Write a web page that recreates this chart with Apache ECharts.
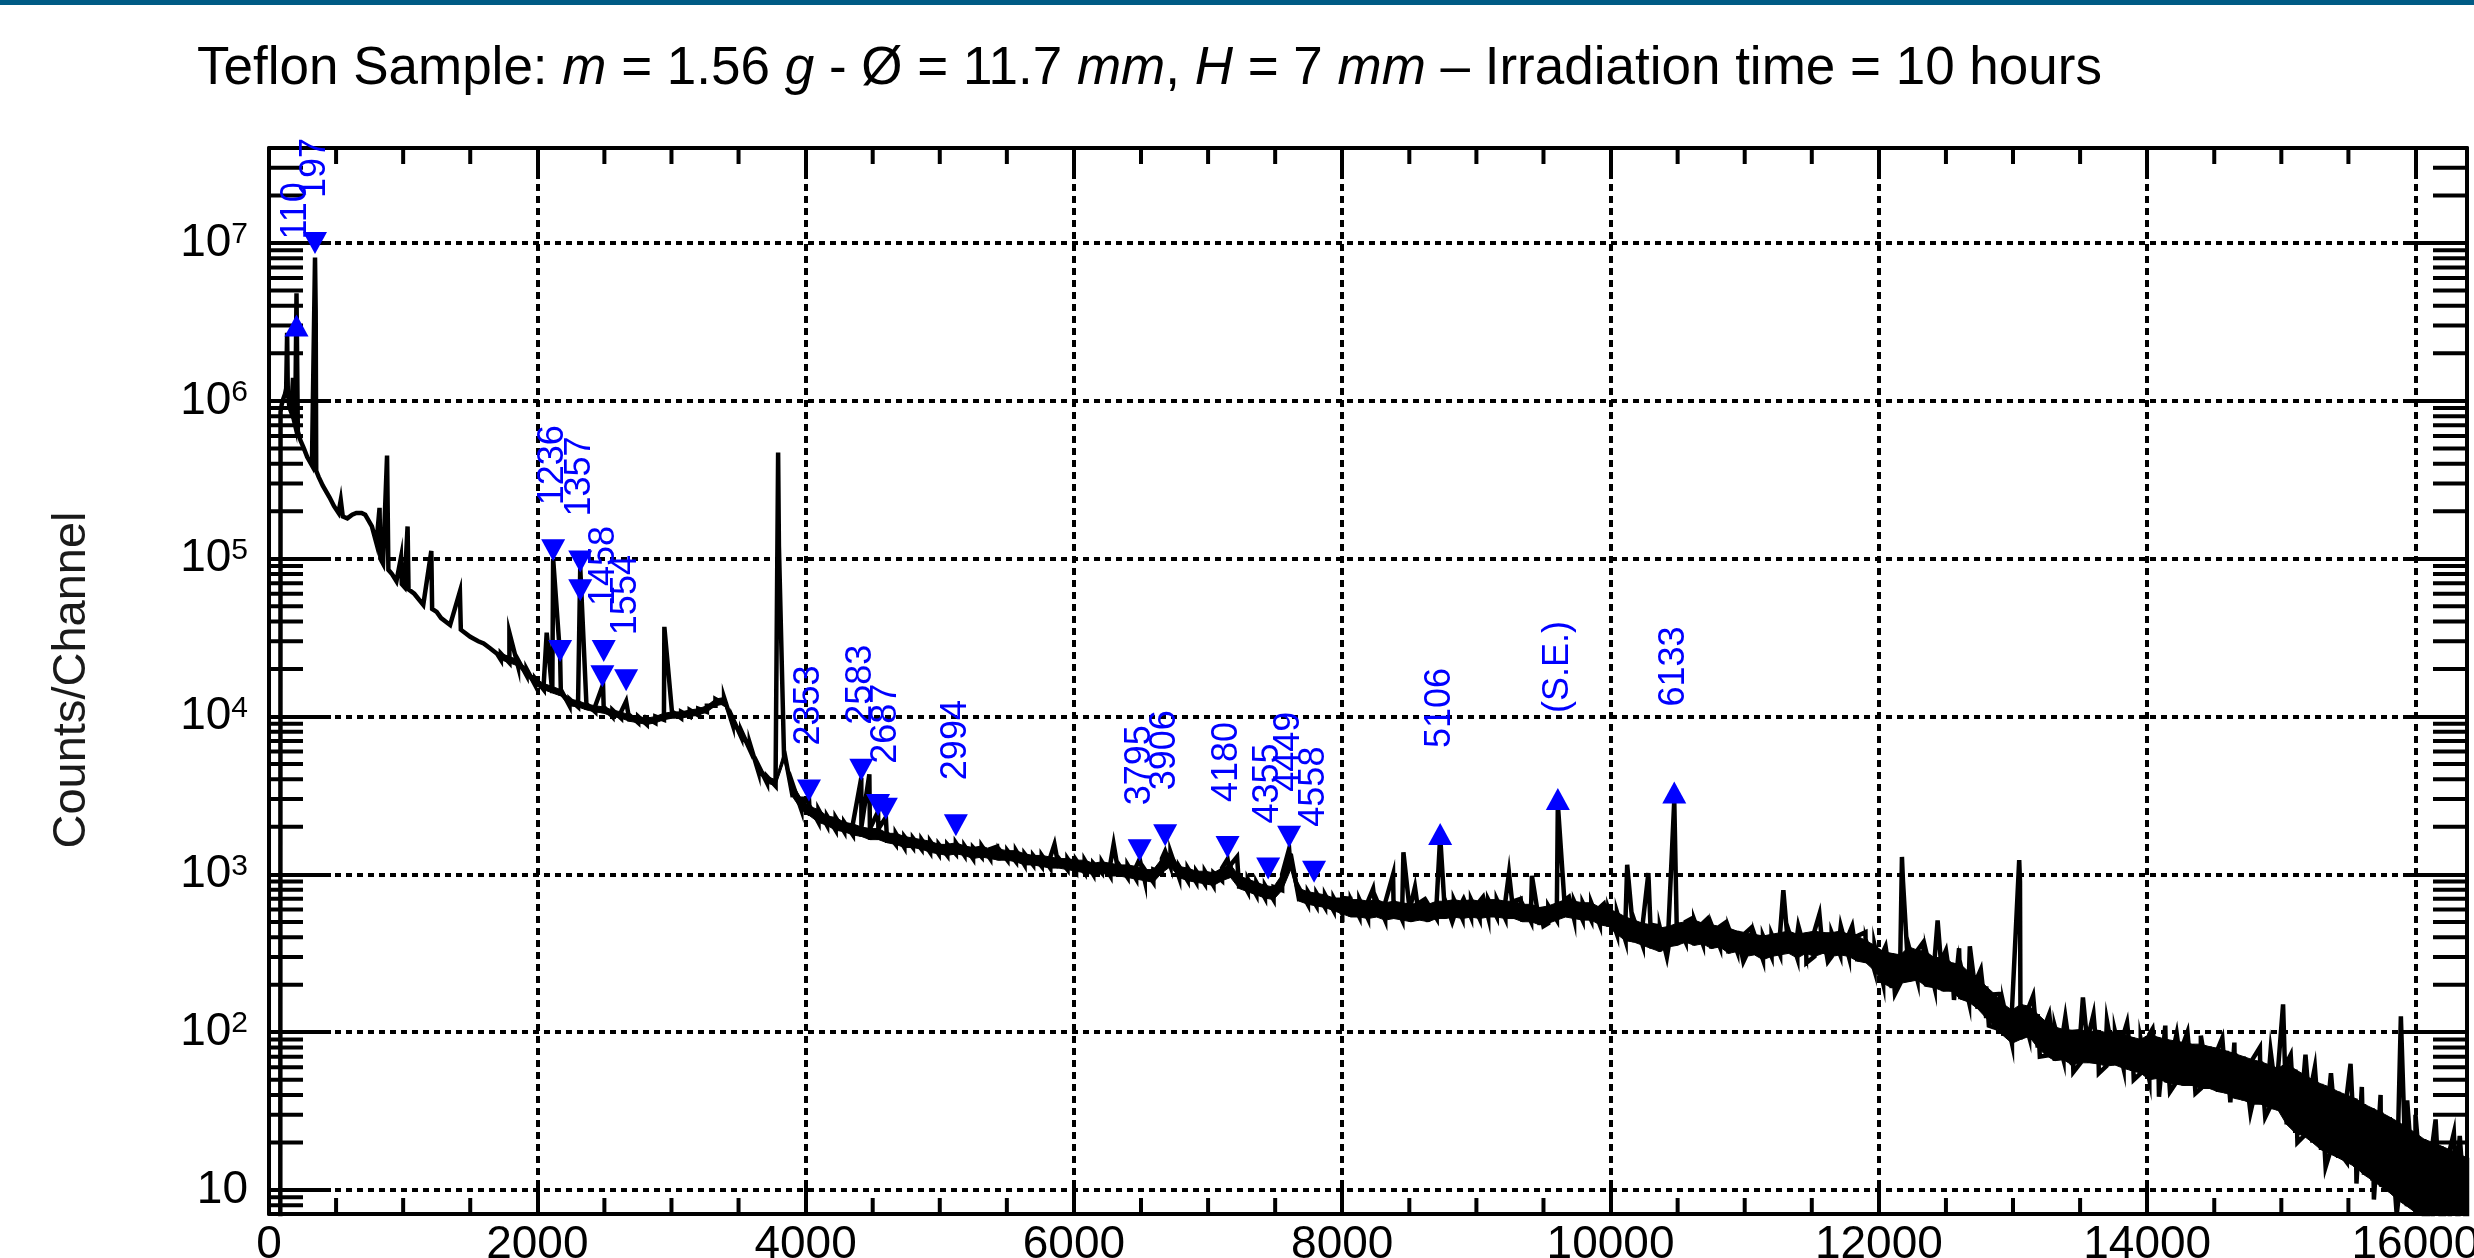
<!DOCTYPE html>
<html>
<head>
<meta charset="utf-8">
<title>Teflon Sample – gamma spectrum</title>
<script src="https://cdn.jsdelivr.net/npm/echarts@6/dist/echarts.min.js"></script>
<style>
  html, body { margin: 0; padding: 0; background: #ffffff; }
  #chart { width: 2474px; height: 1258px; }
</style>
</head>
<body>
<div id="chart"></div>
<script>
const FONT = '"Liberation Sans", Arial, Helvetica, sans-serif';

// Low-channel part of the spectrum: [channel, counts]
const headSpectrum = [
  [84, 1], [86, 850000], [95, 950000], [105, 1020000], [119, 1100000], [128, 1200000],
  [135, 2700000], [140, 1150000], [152, 910000], [165, 850000], [179, 1400000], [185, 760000],
  [195, 700000], [205, 4800000], [215, 640000], [235, 560000], [260, 500000], [285, 440000],
  [320, 390000], [343, 8100000], [348, 3700000], [352, 360000], [370, 330000], [401, 290000],
  [451, 245000], [485, 215000], [518, 195000], [535, 235000], [550, 185000], [584, 180000],
  [620, 190000], [651, 195000], [690, 195000], [717, 190000], [767, 160000], [801, 125000],
  [824, 210000], [830, 100000], [850, 93000], [880, 450000], [890, 85000], [917, 80000],
  [950, 72000], [984, 102000], [990, 69000], [1010, 66000], [1033, 160000], [1040, 64000],
  [1083, 60000], [1150, 51000], [1210, 112000], [1216, 48000], [1250, 46000], [1283, 42000],
  [1350, 38000], [1423, 62000], [1430, 35500], [1500, 32000], [1560, 30000], [1600, 29000],
  [1650, 27000], [1700, 25000]
];

// Continuum from channel 1728 to 16384, one sample every 64 channels:
// lower and upper edge of the channel-to-channel scatter (counts)
const bandStart = 1728;
const bandStep = 64;
const bandLow = [
  22900, 21900, 20900, 18200, 15800, 14800, 14100, 13500, 11700, 11500, 11000, 10700, 10500, 10000, 9770, 9330, 9120,
  8910, 9120, 9550, 9770, 9770, 10000, 10200, 10700, 11700, 12000, 8910, 7410, 6170, 4470, 3800, 3630, 5250,
  3090, 2570, 2344, 2138, 2042, 1905, 1862, 1778, 1738, 1660, 1660, 1585, 1549, 1479, 1479, 1445, 1380,
  1349, 1318, 1349, 1318, 1259, 1288, 1259, 1230, 1230, 1202, 1148, 1148, 1122, 1096, 1096, 1072,
  1047, 1023, 1000, 1023, 977, 977, 955, 933, 912, 891, 1023, 1122, 955, 912, 891, 871,
  851, 912, 955, 813, 776, 741, 708, 692, 794, 1072, 676, 646, 631, 617, 589,
  562, 537, 537, 525, 537, 513, 525, 513, 501, 513, 501, 525, 525, 537, 525, 537,
  525, 537, 537, 525, 525, 501, 501, 479, 490, 513, 537, 525, 513, 513, 479, 468,
  417, 380, 372, 355, 339, 324, 347, 355, 372, 355, 363, 339, 347, 316, 324, 302,
  309, 288, 302, 309, 316, 295, 316, 302, 316, 302, 309, 302, 282, 275, 245,
  204, 191, 204, 209, 214, 195, 191, 182, 182, 162, 155, 141, 123, 107, 95, 85,
  90, 94, 80, 71, 66, 67, 62, 64, 64, 63, 61, 62, 59, 57, 55,
  50, 51, 48, 47, 46, 46, 44, 44, 42, 41, 38, 37, 35, 35, 33, 32,
  26, 23, 22, 20, 18, 17, 16, 15, 14, 12.5, 11.5, 10.5, 9.6, 8.6, 7.9, 7.2, 6.6, 6, 5.6, 5.2, 5, 4.8
];
const bandHigh = [
  25100, 24000, 22900, 20000, 17400, 16200, 15500, 14800, 12900, 12600, 12000, 11700, 11500, 11000, 10700, 10200, 10000,
  9770, 10000, 10500, 10700, 10700, 11000, 11200, 11700, 12900, 13200, 9770, 8130, 6760, 4900, 4170, 3980, 6030,
  3715, 3020, 2692, 2570, 2344, 2291, 2138, 2089, 1995, 1950, 1950, 1820, 1820, 1738, 1698, 1660, 1622,
  1549, 1549, 1585, 1514, 1479, 1514, 1445, 1445, 1413, 1413, 1349, 1318, 1318, 1288, 1259, 1259,
  1230, 1230, 1175, 1202, 1175, 1148, 1148, 1122, 1072, 1072, 1259, 1380, 1122, 1096, 1047, 1047,
  1023, 1096, 1148, 977, 933, 891, 851, 832, 1000, 1349, 813, 776, 759, 741, 708,
  708, 692, 692, 676, 692, 661, 676, 661, 646, 661, 646, 676, 676, 692, 676, 692,
  676, 692, 692, 676, 676, 646, 646, 617, 631, 661, 692, 676, 661, 661, 617, 603,
  575, 537, 513, 490, 479, 457, 468, 490, 501, 513, 490, 479, 468, 457, 437, 427,
  417, 407, 417, 427, 437, 417, 427, 437, 427, 427, 437, 417, 407, 380, 355,
  324, 316, 309, 347, 331, 324, 295, 302, 275, 269, 240, 224, 195, 174, 151, 138,
  150, 146, 130, 116, 108, 104, 103, 104, 100, 103, 99, 101, 97, 93, 90,
  97, 93, 90, 88, 86, 84, 84, 81, 79, 76, 73, 70, 67, 65, 62, 59,
  64, 58, 54, 50, 47, 45, 42, 40, 38, 35, 33, 31, 29, 27, 25, 23, 21, 20, 19, 18, 17, 16
];

// Narrow lines standing out of the continuum, and single channels far off it: [channel, counts]
const peaks = [
  [1792, 34000], [2070, 34000], [2118, 100000], [2170, 24000], [2320, 88000], [2490, 16000],
  [2662, 12500], [2947, 37000], [3795, 470000], [3801, 120000], [4025, 3000], [4415, 4100],
  [4475, 4300], [4540, 2500], [4598, 2300], [5120, 1600], [5428, 1500], [5855, 1550],
  [6296, 1550], [6490, 1250], [6680, 1400], [7145, 1250], [7216, 1290], [7604, 1450],
  [8060, 700], [8230, 810], [8379, 1000], [8456, 1380], [8542, 830], [8610, 690],
  [8730, 1750], [8820, 500], [8905, 700], [9050, 720], [9243, 1020], [9330, 700],
  [9414, 980], [9500, 470], [9607, 2800], [9690, 720], [9950, 650], [10050, 580],
  [10124, 1150], [10282, 1020], [10350, 470], [10420, 300], [10475, 2950], [10604, 525],
  [10720, 520], [10850, 490], [10990, 280], [11050, 460], [11288, 795], [11400, 470],
  [11460, 275], [11557, 560], [11620, 280], [11716, 470], [11801, 470], [11900, 430],
  [12050, 350], [12120, 175], [12172, 1290], [12180, 900], [12330, 370], [12438, 510],
  [12500, 330], [12560, 160], [12598, 340], [12678, 350], [12760, 250], [12820, 110],
  [12900, 175], [13046, 1230], [13052, 900], [13150, 170], [13200, 70], [13270, 130],
  [13390, 125], [13450, 56], [13521, 166], [13600, 130], [13640, 55], [13700, 118],
  [13850, 115], [13900, 50], [14040, 105], [14088, 39], [14135, 110], [14170, 42],
  [14220, 98], [14300, 100], [14360, 41], [14400, 95], [14560, 92], [14620, 36],
  [14650, 86], [14770, 31], [14840, 80], [14880, 29], [14920, 76], [15013, 150],
  [15070, 72], [15120, 20], [15180, 72], [15250, 60], [15330, 14], [15370, 55],
  [15441, 17], [15516, 63], [15560, 11], [15600, 45], [15690, 8.7], [15740, 40],
  [15800, 9.8], [15860, 7], [15891, 126], [15938, 37], [16000, 30], [16100, 5],
  [16150, 28], [16220, 4.5], [16286, 23], [16330, 22]
];

// Identified gamma lines (energy labels in keV)
const markerChannels = [205, 343, 2118, 2320, 2320, 2170, 2495, 2485, 2662, 4025, 4415, 4540,
  4598, 5120, 6490, 6680, 7145, 7448, 7604, 7790, 8730, 9607, 10475];
const markerCounts = [3.0e6, 1.0e7, 113000, 96000, 63000, 26000, 26000, 18000, 17000, 3400, 4600, 2750,
  2600, 2050, 1420, 1770, 1490, 1090, 1730, 1040, 1800, 3000, 3300];
const markerShapes = ['up', 'down', 'down', 'down', 'down', 'down', 'down', 'down', 'down', 'down', 'down', 'down',
  'down', 'down', 'down', 'down', 'down', 'down', 'down', 'down', 'up', 'up', 'up'];
const markerLabels = ['110', '197', '1236', '1357', '', '', '1458', '', '1554', '2353', '2583', '',
  '2687', '2994', '3795', '3906', '4180', '4355', '4449', '4558', '5106', '(S.E.)', '6133'];

// Axis ranges and ticks
const channelMax = 16384;
const channelMajor = 2000;
const channelMinor = 500;
const countsMin = 7.05;
const countsMax = 4.0e7;
const minorMultipliers = [2, 3, 4, 5, 6, 7, 8, 9];

const titleText = '{n|Teflon Sample: }{i|m}{n| = 1.56 }{i|g}{n| - Ø = 11.7 }{i|mm}{n|, }{i|H}{n| = 7 }{i|mm}{n| – Irradiation time = 10 hours}';
const yTitle = 'Counts/Channel';

// ---- tables for the library ----
const bandChannel = i => bandStart + i * bandStep;

// spectrum trace: head, then the scatter band (low -> high at each sample), with the narrow lines merged in
const trace = [];
headSpectrum.forEach(p => trace.push({ c: p[0], v: p[1] }));
bandLow.forEach((lo, i) => {
  trace.push({ c: bandChannel(i), v: lo });
  trace.push({ c: bandChannel(i), v: bandHigh[i] });
});
peaks.forEach(p => trace.push({ c: p[0], v: p[1] }));
const spectrumData = trace
  .map((t, k) => ({ c: t.c, v: t.v, k }))
  .sort((a, b) => a.c - b.c || a.k - b.k)
  .map(t => [t.c, t.v]);

// filled quads between neighbouring band samples
const bandQuads = [];
for (let i = 0; i + 1 < bandLow.length; i++) {
  bandQuads.push([bandChannel(i), bandLow[i], bandHigh[i], bandChannel(i + 1), bandLow[i + 1], bandHigh[i + 1]]);
}

// minor tick values
const yMinorTicks = [];
for (let d = 0; d <= 7; d++) {
  minorMultipliers.forEach(m => {
    const v = m * Math.pow(10, d);
    if (v > countsMin && v < countsMax) yMinorTicks.push([0, v]);
  });
}
const xMinorTicks = [];
for (let c = channelMinor; c < 16000; c += channelMinor) {
  if (c % channelMajor !== 0) xMinorTicks.push([c, 100]);
}

const markerData = markerChannels.map((c, i) => [c, markerCounts[i], i]);

const chart = echarts.init(document.getElementById('chart'), null, { renderer: 'canvas' });

const LW = 4;
const axisLineStyle = { color: '#000', width: LW };
const baseX = {
  type: 'value', min: 0, max: channelMax, interval: channelMajor,
  axisLine: { show: true, onZero: false, lineStyle: axisLineStyle },
  axisTick: { show: true, inside: true, length: 31, lineStyle: axisLineStyle },
  minorTick: { show: false },
  splitLine: { show: false }
};
const baseY = {
  type: 'log', logBase: 10, min: countsMin, max: countsMax,
  axisLine: { show: true, onZero: false, lineStyle: axisLineStyle },
  axisTick: { show: true, inside: true, length: 62, lineStyle: axisLineStyle },
  minorTick: { show: false },
  splitLine: { show: false }
};

function yLabel(v) {
  const e = Math.log10(v);
  const r = Math.round(e);
  if (Math.abs(e - r) > 1e-6) return '';
  if (r === 1) return '{b|10}';
  return '{b|10}{s|' + r + '}';
}

const option = {
  animation: false,
  backgroundColor: '#ffffff',
  title: {
    text: titleText,
    left: 197, top: 43, padding: 0,
    textStyle: {
      fontWeight: 'normal',
      rich: {
        n: { fontFamily: FONT, fontSize: 53, fontWeight: 'normal', color: '#000', lineHeight: 53 },
        i: { fontFamily: FONT, fontSize: 53, fontWeight: 'normal', fontStyle: 'italic', color: '#000', lineHeight: 53 }
      }
    }
  },
  graphic: [
    { type: 'rect', left: 0, top: 0, shape: { width: 2474, height: 5 }, style: { fill: '#005b85' }, z: 100 },
    {
      type: 'text', x: 72, y: 680, rotation: Math.PI / 2,
      style: { text: yTitle, font: '47px ' + FONT, fill: '#1a1a1a', align: 'center', verticalAlign: 'middle' }
    }
  ],
  grid: {
    left: 269, right: 7, top: 148, bottom: 44,
    containLabel: false, outerBoundsMode: 'none',
    show: false
  },
  xAxis: [
    Object.assign({}, baseX, {
      position: 'bottom',
      axisLabel: {
        show: true, margin: 8, color: '#000', fontFamily: FONT, fontSize: 46,
        formatter: v => (v % channelMajor === 0 ? String(v) : '')
      },
      splitLine: { show: true, lineStyle: { color: '#000', width: LW, type: [7, 5] } }
    }),
    Object.assign({}, baseX, { position: 'top', axisLabel: { show: false } })
  ],
  yAxis: [
    Object.assign({}, baseY, {
      position: 'left',
      axisLabel: {
        show: true, margin: 21, color: '#000', fontFamily: FONT,
        formatter: yLabel,
        rich: {
          b: { fontFamily: FONT, fontSize: 46, color: '#000', lineHeight: 46 },
          s: { fontFamily: FONT, fontSize: 30, color: '#000', lineHeight: 20, verticalAlign: 'top' }
        }
      },
      splitLine: { show: true, lineStyle: { color: '#000', width: LW, type: [6, 5] } }
    }),
    Object.assign({}, baseY, { position: 'right', axisLabel: { show: false } })
  ],
  series: [
    {
      name: 'scatter band', type: 'custom', coordinateSystem: 'cartesian2d',
      xAxisIndex: 0, yAxisIndex: 0, clip: true, silent: true, z: 2,
      encode: { x: [0, 3], y: [1, 2, 4, 5] },
      data: bandQuads,
      renderItem: (params, api) => {
        const a = api.coord([api.value(0), api.value(2)]);
        const b = api.coord([api.value(3), api.value(5)]);
        const c = api.coord([api.value(3), api.value(4)]);
        const d = api.coord([api.value(0), api.value(1)]);
        return { type: 'polygon', shape: { points: [a, b, c, d] }, style: { fill: '#000', stroke: '#000', lineWidth: 1 } };
      }
    },
    {
      name: 'spectrum', type: 'line', xAxisIndex: 0, yAxisIndex: 0,
      data: spectrumData, showSymbol: false, symbol: 'none', sampling: false,
      clip: true, silent: true, z: 3,
      lineStyle: { color: '#000', width: 4.5, join: 'miter' }
    },
    {
      name: 'y minor ticks', type: 'custom', coordinateSystem: 'cartesian2d', silent: true, z: 4,
      data: yMinorTicks,
      renderItem: (params, api) => {
        const y = api.coord([0, api.value(1)])[1];
        const x0 = params.coordSys.x, x1 = params.coordSys.x + params.coordSys.width;
        const st = { stroke: '#000', lineWidth: LW };
        return { type: 'group', children: [
          { type: 'line', shape: { x1: x0, y1: y, x2: x0 + 34, y2: y }, style: st },
          { type: 'line', shape: { x1: x1 - 34, y1: y, x2: x1, y2: y }, style: st }
        ] };
      }
    },
    {
      name: 'x minor ticks', type: 'custom', coordinateSystem: 'cartesian2d', silent: true, z: 4,
      data: xMinorTicks,
      renderItem: (params, api) => {
        const x = api.coord([api.value(0), 100])[0];
        const y0 = params.coordSys.y, y1 = params.coordSys.y + params.coordSys.height;
        const st = { stroke: '#000', lineWidth: LW };
        return { type: 'group', children: [
          { type: 'line', shape: { x1: x, y1: y1 - 16, x2: x, y2: y1 }, style: st },
          { type: 'line', shape: { x1: x, y1: y0, x2: x, y2: y0 + 16 }, style: st }
        ] };
      }
    },
    {
      name: 'lines', type: 'custom', coordinateSystem: 'cartesian2d', clip: false, silent: true, z: 10,
      data: markerData,
      renderItem: (params, api) => {
        const i = api.value(2);
        const p = api.coord([api.value(0), api.value(1)]);
        const up = markerShapes[i] === 'up';
        const w = 24, h = 22;
        const pts = up
          ? [[p[0], p[1] - h / 2], [p[0] + w / 2, p[1] + h / 2], [p[0] - w / 2, p[1] + h / 2]]
          : [[p[0], p[1] + h / 2], [p[0] + w / 2, p[1] - h / 2], [p[0] - w / 2, p[1] - h / 2]];
        const children = [{ type: 'polygon', shape: { points: pts }, style: { fill: '#0000ff' } }];
        if (markerLabels[i]) {
          children.push({
            type: 'text', x: p[0], y: p[1] - (up ? 86 : 45), rotation: Math.PI / 2,
            style: { text: markerLabels[i], fill: '#0000ff', font: '36px ' + FONT, align: 'left', verticalAlign: 'middle' }
          });
        }
        return { type: 'group', children };
      }
    }
  ]
};

chart.setOption(option);
</script>
</body>
</html>
